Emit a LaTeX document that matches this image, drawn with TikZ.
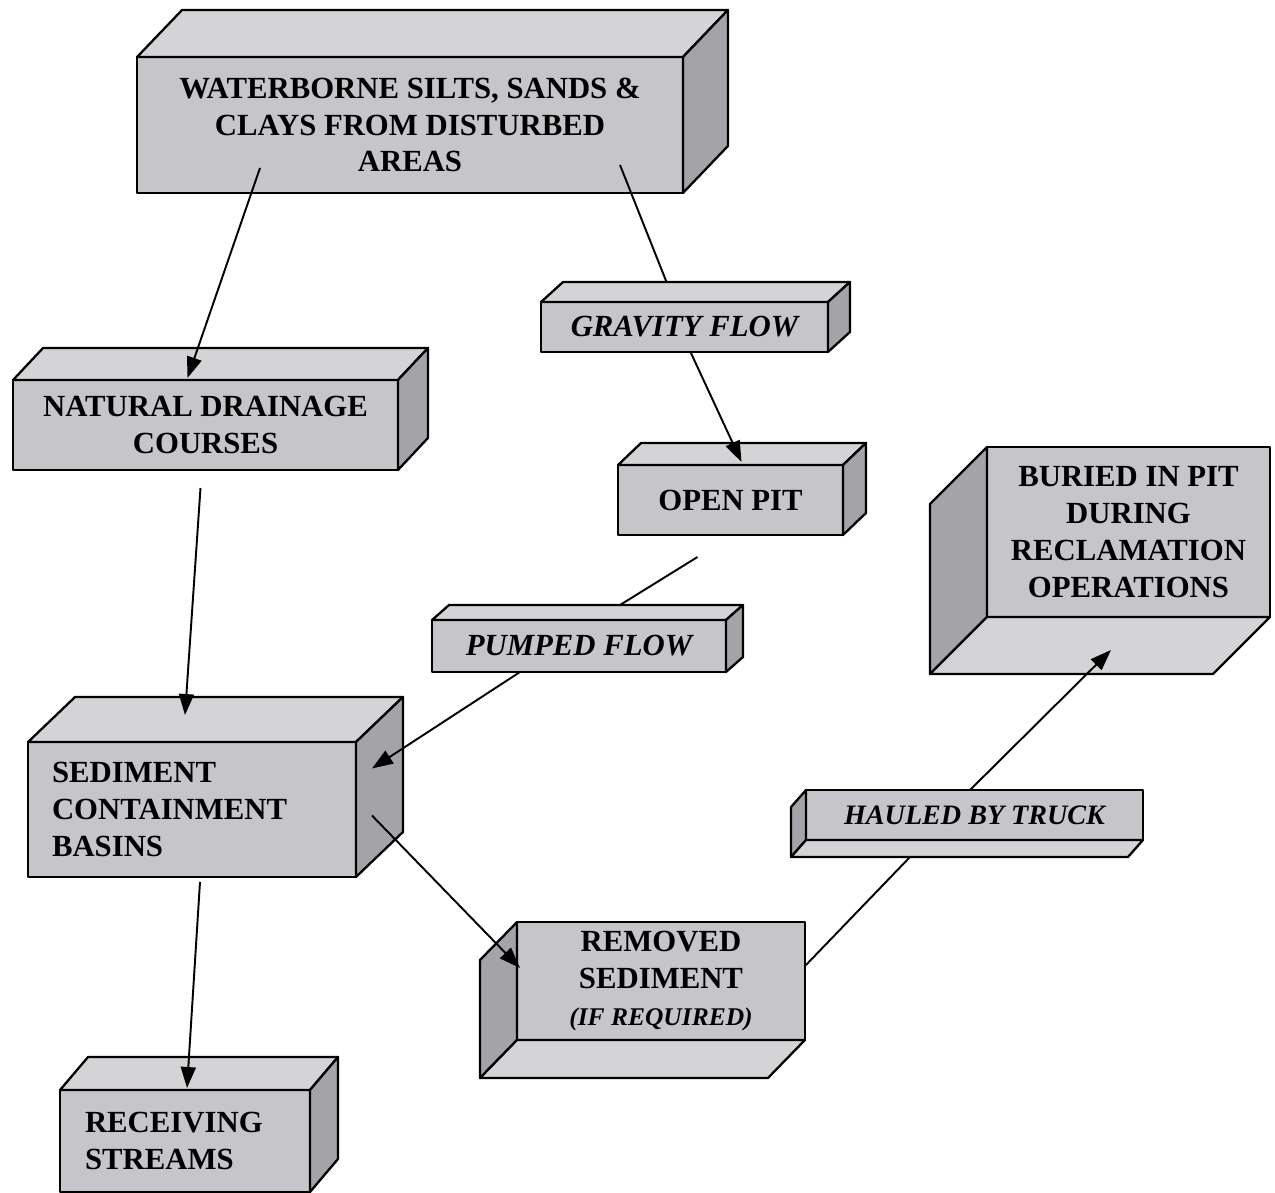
\documentclass[tikz,border=0pt]{standalone}
\usepackage{fontspec}
\setmainfont{Liberation Serif}
\usetikzlibrary{arrows.meta,calc}
\definecolor{boxfront}{RGB}{198,198,202}
\definecolor{boxlight}{RGB}{212,212,215}
\definecolor{boxdark}{RGB}{163,163,168}
\newcommand{\upfaces}[3]{%
	\filldraw[face,fill=boxlight] (#1.north west) -- ++(#2,#3) -- ($(#1.north east)+(#2,#3)$) -- (#1.north east) -- cycle;
	\filldraw[face,fill=boxdark] (#1.north east) -- ++(#2,#3) -- ($(#1.south east)+(#2,#3)$) -- (#1.south east) -- cycle;}
\newcommand{\downfaces}[3]{%
	\filldraw[face,fill=boxdark] (#1.north west) -- ++(#2,#3) -- ($(#1.south west)+(#2,#3)$) -- (#1.south west) -- cycle;
	\filldraw[face,fill=boxlight] (#1.south west) -- ++(#2,#3) -- ($(#1.south east)+(#2,#3)$) -- (#1.south east) -- cycle;}
\begin{document}
\begin{tikzpicture}[x=0.02cm,y=-0.02cm,
	box/.style={draw,fill=boxfront,line width=1.3pt,line join=round,inner sep=0pt,outer sep=0pt,align=center,font=\fontsize{17.5}{21}\selectfont\bfseries},
	flow/.style={box,font=\fontsize{17.5}{21}\selectfont\bfseries\itshape},
	face/.style={line width=1.3pt,line join=round},
	arr/.style={line width=1.1pt,-{Triangle[length=0.42cm,width=0.3cm]}},
	link/.style={line width=1.1pt}]
	\useasboundingbox (0,0) rectangle (1275,1193);
	\node[box,minimum width=10.92cm,minimum height=2.72cm] (silts) at (410,125) {WATERBORNE SILTS, SANDS \&\\CLAYS FROM DISTURBED\\AREAS};
	\upfaces{silts}{45}{-47}
	\node[box,minimum width=7.7cm,minimum height=1.8cm] (drain) at (205.5,425) {NATURAL DRAINAGE\\COURSES};
	\upfaces{drain}{30}{-32}
	\node[flow,minimum width=5.74cm,minimum height=1cm] (gravity) at (684.5,327) {GRAVITY FLOW};
	\upfaces{gravity}{22}{-20}
	\node[box,minimum width=4.5cm,minimum height=1.4cm] (pit) at (730.5,500) {OPEN PIT};
	\upfaces{pit}{23}{-22}
	\node[flow,minimum width=5.88cm,minimum height=1.04cm] (pumped) at (579,646) {PUMPED FLOW};
	\upfaces{pumped}{17}{-15}
	\node[box,minimum width=5.66cm,minimum height=3.4cm] (buried) at (1128.5,532) {BURIED IN PIT\\DURING\\RECLAMATION\\OPERATIONS};
	\downfaces{buried}{-57}{57}
	\node[box,align=left,text width=5.6cm,inner xsep=0.48cm,minimum height=2.7cm] (basins) at (192,809.5) {SEDIMENT\\CONTAINMENT\\BASINS};
	\upfaces{basins}{47}{-45}
	\node[flow,font=\fontsize{16}{20}\selectfont\bfseries\itshape,minimum width=6.74cm,minimum height=1cm] (truck) at (974.5,815) {HAULED BY TRUCK};
	\downfaces{truck}{-15}{17}
	\node[box,minimum width=5.76cm,minimum height=2.36cm] (removed) at (661,981) {REMOVED\\SEDIMENT\\{\fontsize{14.5}{17}\selectfont\itshape (IF REQUIRED)}};
	\downfaces{removed}{-37}{38}
	\node[box,align=left,text width=4cm,inner xsep=0.5cm,minimum height=2.04cm] (streams) at (185,1141) {RECEIVING\\STREAMS};
	\upfaces{streams}{28}{-33}
	\draw[arr] ($(silts.south)+(-150,-25)$) -- ($(drain.north)+(-18,-2)$);
	\draw[link] ($(silts.south)+(210,-28)$) -- ($(gravity.north)+(-18,-20)$);
	\draw[arr] ($(gravity.south)+(6,0)$) -- ($(pit.north)+(11,-3)$);
	\draw[link] ($(pit.south)+(-33,22)$) -- ($(pumped.north)+(41,-15)$);
	\draw[arr] ($(pumped.south)+(-59,0)$) -- ($(basins.east)+(16,-41)$);
	\draw[arr] ($(drain.south)+(-5,18)$) -- ($(basins.north)+(-7,-27)$);
	\draw[arr] ($(basins.south)+(8,5)$) -- ($(streams.north)+(2,-2)$);
	\draw[arr] ($(basins.east)+(16,6)$) -- ($(removed.west)+(3,-13)$);
	\draw[link] ($(removed.east)+(1,-16)$) -- ($(truck.south)+(-64.5,17)$);
	\draw[arr] ($(truck.north)+(-4.5,0)$) -- ($(buried.south)+(-17.5,33)$);
\end{tikzpicture}
\end{document}
